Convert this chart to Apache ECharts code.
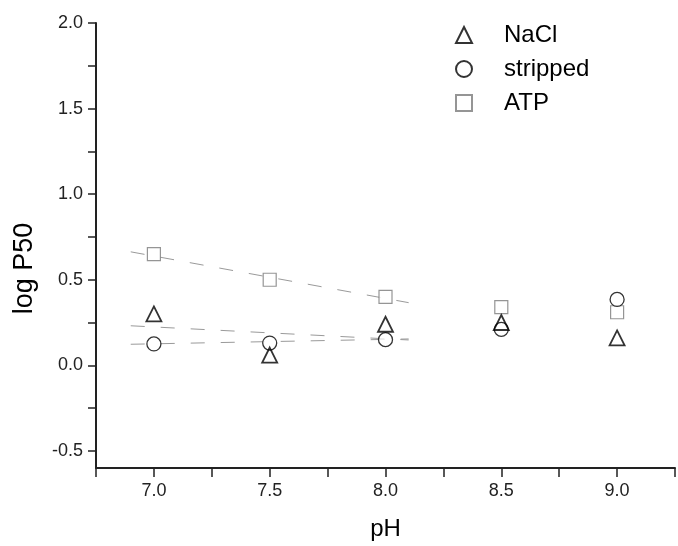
<!DOCTYPE html>
<html>
<head>
<meta charset="utf-8">
<script src="https://cdn.jsdelivr.net/npm/echarts@6/dist/echarts.min.js"></script>
<style>
  html, body { margin: 0; padding: 0; background: #fff; }
  #chart { width: 678px; height: 546px; }
</style>
</head>
<body>
<div id="chart"></div>
<script>
// pH values of the measurements
const phValues = [7.0, 7.5, 8.0, 8.5, 9.0];

// log P50
const naclValues = [0.30, 0.06, 0.24, 0.25, 0.16];
const strippedValues = [0.125, 0.13, 0.15, 0.21, 0.385];
const atpValues = [0.65, 0.50, 0.40, 0.34, 0.31];

// dashed fit lines (pH 7.0 - 8.0 only), end points
const fitX = [6.9, 8.1];
const naclFit = [0.231, 0.148];
const strippedFit = [0.123, 0.154];
const atpFit = [0.663, 0.366];

// axis ticks
const yTicks = [-0.5, -0.25, 0, 0.25, 0.5, 0.75, 1.0, 1.25, 1.5, 1.75, 2.0];
const yLabels = [-0.5, 0, 0.5, 1.0, 1.5, 2.0];

const font = 'Arial, "Liberation Sans", sans-serif';
const pair = (xs, ys) => xs.map((x, i) => [x, ys[i]]);

const chart = echarts.init(document.getElementById('chart'));

const fitLine = (data) => ({
  type: 'line',
  data: data,
  symbol: 'none',
  silent: true,
  z: 1,
  lineStyle: { color: '#9a9a9a', width: 1, type: [14, 16] }
});

const option = {
  animation: false,
  backgroundColor: '#fff',
  grid: { left: 96, right: -2, top: 23, bottom: 73 },
  legend: {
    orient: 'vertical',
    left: 450,
    top: 18,
    itemWidth: 16,
    itemHeight: 16,
    itemGap: 10,
    data: ['NaCl', 'stripped', 'ATP'],
    textStyle: { fontFamily: font, fontSize: 24, color: '#000', padding: [0, 0, 0, 27] }
  },
  xAxis: {
    type: 'value',
    min: 6.75,
    max: 9.25,
    interval: 0.25,
    name: 'pH',
    nameLocation: 'middle',
    nameGap: 49,
    nameTextStyle: { fontFamily: font, fontSize: 24, color: '#000' },
    splitLine: { show: false },
    axisLine: { onZero: false, lineStyle: { color: '#222', width: 2 } },
    axisTick: { length: 9, lineStyle: { color: '#222', width: 1.5 } },
    axisLabel: {
      fontFamily: font, fontSize: 18, color: '#222', margin: 14,
      formatter: v => (Math.abs(v * 2 - Math.round(v * 2)) < 1e-6 ? v.toFixed(1) : '')
    }
  },
  yAxis: {
    type: 'value',
    min: -0.6,
    max: 2.0,
    name: 'log P50',
    nameLocation: 'middle',
    nameGap: 58,
    nameTextStyle: { fontFamily: font, fontSize: 27, color: '#000', padding: [0, 46, 0, 0] },
    splitLine: { show: false },
    axisLine: { show: true, onZero: false, lineStyle: { color: '#222', width: 2 } },
    axisTick: { show: true, length: 8, customValues: yTicks, lineStyle: { color: '#222', width: 1.5 } },
    axisLabel: {
      fontFamily: font, fontSize: 18, color: '#222', margin: 13,
      customValues: yLabels,
      formatter: v => v.toFixed(1)
    }
  },
  series: [
    fitLine(pair(fitX, naclFit)),
    fitLine(pair(fitX, strippedFit)),
    fitLine(pair(fitX, atpFit)),
    {
      name: 'ATP',
      type: 'scatter',
      symbol: 'rect',
      symbolSize: 13,
      z: 3,
      data: pair(phValues, atpValues),
      itemStyle: { color: '#fff', borderColor: '#7a7a7a', borderWidth: 1.2 }
    },
    {
      name: 'stripped',
      type: 'scatter',
      symbol: 'circle',
      symbolSize: 14,
      z: 4,
      data: pair(phValues, strippedValues),
      itemStyle: { color: '#fff', borderColor: '#000', borderWidth: 1.3 }
    },
    {
      name: 'NaCl',
      type: 'scatter',
      symbol: 'triangle',
      symbolSize: 15,
      z: 5,
      data: pair(phValues, naclValues),
      itemStyle: { color: 'rgba(255,255,255,0)', borderColor: '#000', borderWidth: 1.8 }
    }
  ]
};

chart.setOption(option);
</script>
</body>
</html>
